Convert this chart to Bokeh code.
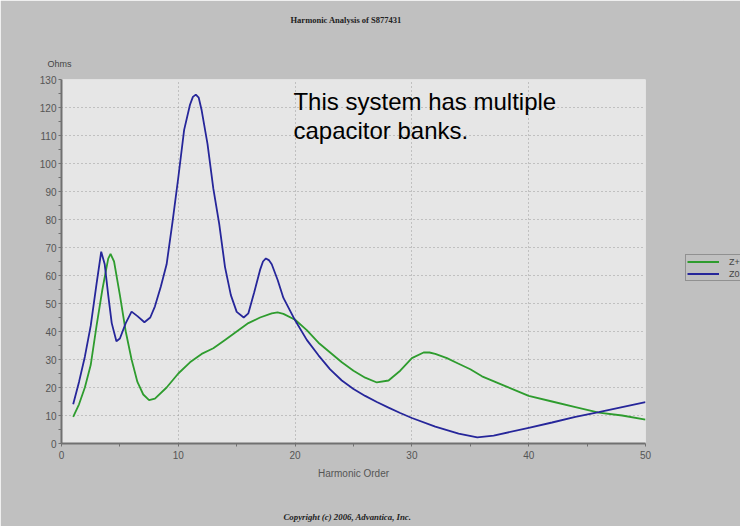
from bokeh.plotting import figure
from bokeh.layouts import row
from bokeh.models import Range1d, Label, Legend, LegendItem, FixedTicker, Title
from bokeh.embed import file_html
from bokeh.resources import INLINE

# ---- data ----
zplus_x = [1, 1.5, 2, 2.5, 3, 3.5, 4, 4.2, 4.5, 5, 5.5, 6, 6.5, 7, 7.5, 8, 9, 10, 11, 12, 13, 14,
           15, 16, 17, 18, 18.5, 19, 20, 21, 22, 23, 24, 25, 26, 27, 28, 29, 30, 31, 31.5, 32, 33,
           34, 35, 36, 38, 40, 42, 44, 46, 48, 50]
zplus_y = [9.5, 14, 20, 28, 42, 55, 66, 67.7, 65, 53, 40, 30, 22, 17.5, 15.5, 16, 20, 25, 29, 32, 34, 37,
           40, 43, 45, 46.5, 46.8, 46.3, 44.2, 40.5, 36, 32.5, 29, 26, 23.5, 21.8, 22.5, 26, 30.5, 32.5, 32.5, 32, 30.5,
           28.5, 26.5, 24, 20.5, 17, 15, 13, 11, 10, 8.5]

zzero_x = [1, 1.5, 2, 2.5, 3, 3.4, 3.7, 4, 4.3, 4.7, 5, 5.5, 6, 6.5, 7.1, 7.6, 8, 8.5, 9, 9.5, 10, 10.5,
           11, 11.25, 11.5, 11.75, 12, 12.5, 13, 13.5, 14, 14.5, 15, 15.6, 16, 16.5, 17, 17.25, 17.5, 17.75,
           18, 18.5, 19, 20, 21, 22, 23, 24, 25, 26, 27, 28, 29, 30, 32, 34, 35.6, 37, 40, 42, 44, 46, 48, 50]
zzero_y = [14, 22, 31, 42, 57, 68.5, 64, 53, 43, 36.5, 37.5, 43, 47.1, 45.5, 43.3, 45, 49, 56, 64, 79, 95, 112,
           121, 123.8, 124.6, 123.5, 119, 107, 91, 78.5, 63, 53, 47, 45, 46.5, 54, 62, 65, 66.1, 65.5,
           64, 58.5, 52, 44, 37, 31.5, 26.5, 22.5, 19.5, 17, 14.8, 12.8, 10.9, 9.1, 6, 3.5, 2.2, 2.8, 5.6, 7.5,
           9.5, 11.2, 13, 14.8]

series_names = ["Z+", "Z0"]
x_ticks = [0, 10, 20, 30, 40, 50]
x_minor = [5, 15, 25, 35, 45]
y_ticks = list(range(0, 131, 10))
y_minor = list(range(5, 130, 10))

title_text = "Harmonic Analysis of S877431"
copyright_text = "Copyright (c) 2006, Advantica, Inc."
x_label = "Harmonic Order"
y_label = "Ohms"
note_lines = ["This system has multiple", "capacitor banks."]

GREEN = "#2e9c2e"
BLUE = "#26269a"
OUTER = "#c0c0c0"
INNER = "#e6e6e6"

p = figure(width=684, height=526, output_backend="svg", toolbar_location=None,
           x_range=Range1d(0, 50), y_range=Range1d(0, 130),
           min_border_left=61, min_border_right=39, min_border_top=79, min_border_bottom=82)
p.background_fill_color = INNER
p.border_fill_color = OUTER
p.outline_line_color = None

r1 = p.line(zplus_x, zplus_y, line_color=GREEN, line_width=1.8)
r2 = p.line(zzero_x, zzero_y, line_color=BLUE, line_width=1.8)

for ax in (p.xaxis[0], p.yaxis[0]):
    ax.axis_line_color = "#707070"
    ax.axis_line_width = 2
    ax.major_tick_line_color = "#707070"
    ax.minor_tick_line_color = "#707070"
    ax.major_tick_in = 0
    ax.major_tick_out = 3
    ax.minor_tick_in = 0
    ax.minor_tick_out = 3
    ax.major_label_text_font = "Liberation Sans"
    ax.major_label_text_font_size = "10px"
    ax.major_label_text_color = "#555555"

p.xaxis[0].ticker = FixedTicker(ticks=x_ticks, minor_ticks=x_minor)
p.yaxis[0].ticker = FixedTicker(ticks=y_ticks, minor_ticks=y_minor)
p.xaxis.major_label_standoff = 4
p.yaxis.major_label_standoff = 2
p.xaxis.axis_label = x_label
p.xaxis.axis_label_text_font = "Liberation Sans"
p.xaxis.axis_label_text_font_size = "10px"
p.xaxis.axis_label_text_font_style = "normal"
p.xaxis.axis_label_text_color = "#555555"
p.xaxis.axis_label_standoff = 6

p.xgrid.ticker = FixedTicker(ticks=x_ticks)
p.ygrid.ticker = FixedTicker(ticks=y_ticks)
for g in (p.xgrid[0], p.ygrid[0]):
    g.grid_line_color = "#9a9a9a"
    g.grid_line_dash = "1 3"
    g.grid_line_width = 1

# titles outside the frame (first added = nearest the frame)
p.title = Title(text=title_text, align="left", offset=229,
                text_font="Liberation Serif", text_font_style="bold",
                text_font_size="8.5px", text_color="#222222")
p.add_layout(Title(text=y_label, align="left", offset=-14, standoff=21,
                   text_font="Liberation Sans", text_font_style="normal",
                   text_font_size="9px", text_color="#444444"), "above")
p.add_layout(Title(text=" ", text_font_size="13px", standoff=0), "above")
p.add_layout(Title(text=" ", text_font_size="19px", standoff=0), "below")
p.add_layout(Title(text=copyright_text, align="left", offset=222,
                   text_font="Liberation Serif", text_font_style="bold italic",
                   text_font_size="8.8px", text_color="#222222"), "below")

# note inside the plot area
p.add_layout(Label(x=19.86, y=117.5, text=note_lines[0], text_align="left",
                   text_font="Liberation Sans", text_font_size="24px", text_color="#000000"))
p.add_layout(Label(x=19.86, y=106.8, text=note_lines[1], text_align="left",
                   text_font="Liberation Sans", text_font_size="24px", text_color="#000000"))

# legend strip at the right edge (its frame is aligned with the main frame by the row);
# it overlaps the main canvas by one pixel to hide the seam between the two canvases
q = figure(width=57, height=526, output_backend="svg", toolbar_location=None,
           x_axis_location=None, y_axis_location=None,
           x_range=Range1d(-100, -99), y_range=Range1d(-100, -99),
           min_border_left=0, min_border_right=0, min_border_top=0, min_border_bottom=0,
           margin=(0, 0, 0, -1))
q.background_fill_color = OUTER
q.border_fill_color = OUTER
q.outline_line_color = OUTER
q.outline_line_width = 3
q.grid.visible = False
k1 = q.line(zplus_x, zplus_y, line_color=GREEN, line_width=1.8)
k2 = q.line(zzero_x, zzero_y, line_color=BLUE, line_width=1.8)
legend = Legend(items=[LegendItem(label=series_names[0], renderers=[k1]),
                       LegendItem(label=series_names[1], renderers=[k2])],
                location=(2, 162), margin=0, padding=1, spacing=1,
                glyph_width=32, glyph_height=11, label_height=11,
                label_standoff=10, label_text_font="Liberation Sans",
                label_text_font_size="9px", label_text_color="#444444",
                label_text_baseline="middle",
                background_fill_color=OUTER, background_fill_alpha=1,
                border_line_color="#606060", border_line_width=1)
q.add_layout(legend, "center")

layout = row(p, q, spacing=0)
open("out.html", "w").write(file_html(layout, INLINE))
